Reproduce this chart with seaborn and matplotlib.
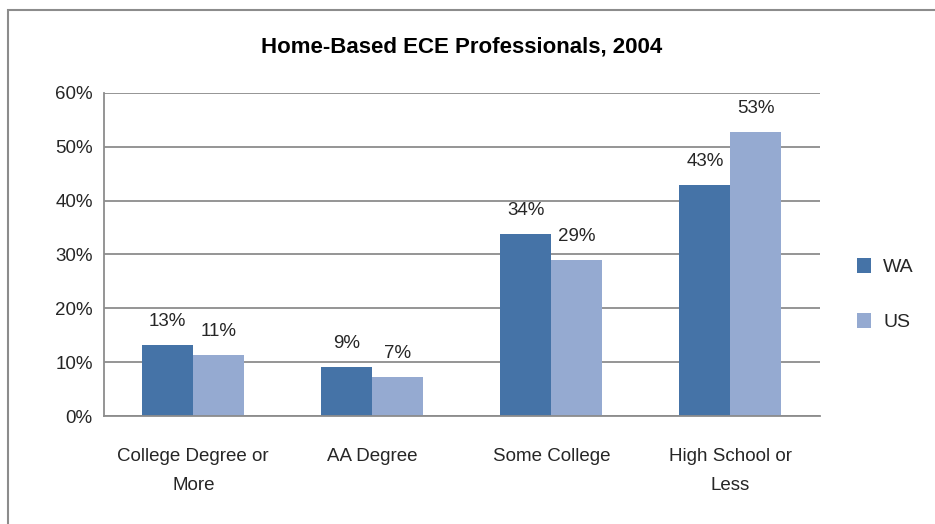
import numpy as np
import pandas as pd
import seaborn as sns
import matplotlib.pyplot as plt
from matplotlib import font_manager
from matplotlib.patches import Rectangle

#%% Data
categories = ["College Degree or\nMore", "AA Degree", "Some College", "High School or\nLess"]
wa_values = [13.2, 9.1, 33.8, 42.8]
us_values = [11.3, 7.2, 29.0, 52.7]
wa_labels = ["13%", "9%", "34%", "43%"]
us_labels = ["11%", "7%", "29%", "53%"]
y_ticks = [0, 10, 20, 30, 40, 50, 60]

df = pd.DataFrame({
    "category": categories * 2,
    "value": wa_values + us_values,
    "region": ["WA"] * 4 + ["US"] * 4,
})

#%% Style
sns.set_style("white")
names = {f.name for f in font_manager.fontManager.ttflist}
family = "Liberation Sans Narrow" if "Liberation Sans Narrow" in names else "Liberation Sans"
plt.rcParams["font.family"] = [family, "DejaVu Sans"]

#%% Plot
fig, ax = plt.subplots(figsize=(9.35, 5.24), dpi=100)
fig.subplots_adjust(left=0.111, right=0.877, top=0.823, bottom=0.206)
sns.barplot(ax=ax, data=df, x="category", y="value", hue="region",
            palette={"WA": "#4573A7", "US": "#95AAD1"}, width=0.57,
            saturation=1, linewidth=0)

for cont, labs in zip(ax.containers, [wa_labels, us_labels]):
    ax.bar_label(cont, labels=labs, padding=11, fontsize=13.5)

ax.set_ylim(0, 60)
ax.set_yticks(y_ticks)
ax.set_yticklabels([f"{t}%" for t in y_ticks], fontsize=13.5)
ax.tick_params(axis="x", labelsize=13.5, pad=23, length=0)
ax.tick_params(axis="y", length=0, pad=8)
for lab in ax.get_xticklabels():
    lab.set_linespacing(1.95)
ax.set_xlabel("")
ax.set_ylabel("")
ax.yaxis.grid(True, color="#8c8c8c", linewidth=1.3)
ax.set_axisbelow(True)
for s in ["top", "right"]:
    ax.spines[s].set_visible(False)
for s in ["left", "bottom"]:
    ax.spines[s].set_color("#8c8c8c")
    ax.spines[s].set_linewidth(1.3)

ax.set_title("Home-Based ECE Professionals, 2004", fontsize=16, fontweight="bold",
             pad=29, color="black")

leg = ax.legend(loc="center left", bbox_to_anchor=(1.027, 0.375), frameon=False,
                fontsize=14, handlelength=0.75, handleheight=0.75, labelspacing=1.9,
                handletextpad=0.6)

fig.patches.append(Rectangle((0.009, -0.02), 1.1, 1.0, transform=fig.transFigure,
                             fill=False, edgecolor="#8c8c8c", linewidth=1.5))

fig.savefig("out.png", dpi=100)
